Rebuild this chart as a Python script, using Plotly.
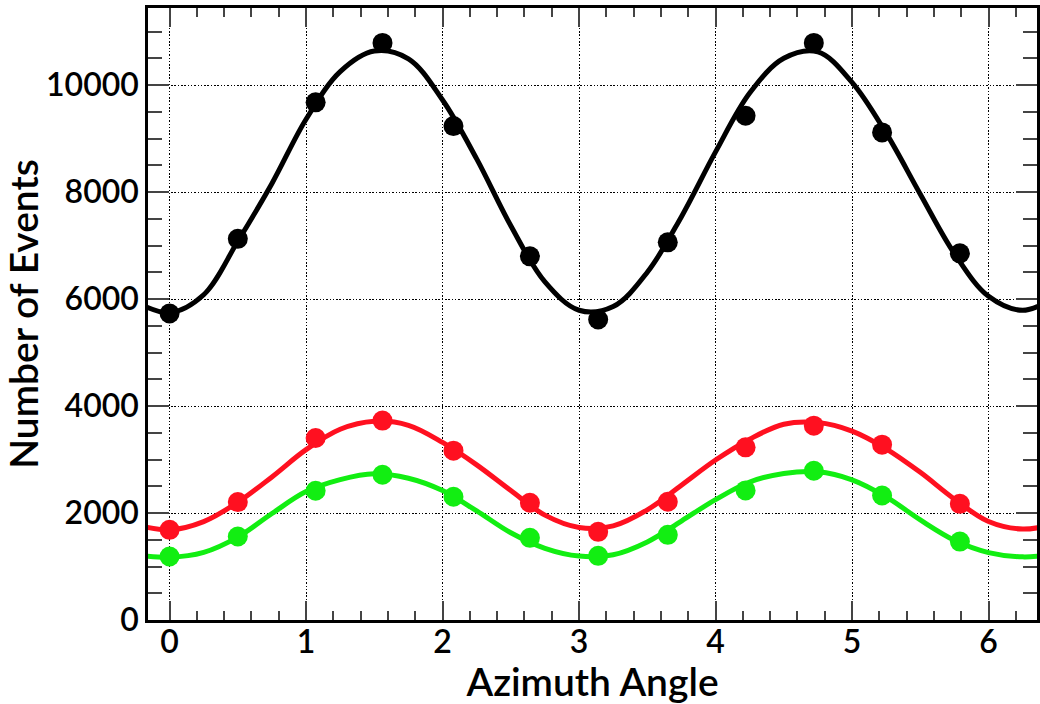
import plotly.graph_objects as go

# Measured data points
x_pts = [0.0, 0.50, 1.07, 1.56, 2.08, 2.64, 3.14, 3.65, 4.22, 4.72, 5.22, 5.79]
black_pts = [5730, 7125, 9676, 10787, 9232, 6798, 5618, 7060, 9425, 10787, 9114, 6854]
red_pts = [1685, 2204, 3402, 3727, 3165, 2191, 1648, 2210, 3227, 3633, 3277, 2172]
green_pts = [1186, 1560, 2416, 2715, 2303, 1536, 1199, 1592, 2422, 2790, 2328, 1466]

# Fitted curves at these x positions
x_fit = [-0.25, 0.0, 0.25, 0.5, 0.75, 1.0, 1.25, 1.5, 1.75, 2.0, 2.25, 2.5, 2.75, 3.0,
         3.25, 3.5, 3.75, 4.0, 4.25, 4.5, 4.75, 5.0, 5.25, 5.5, 5.75, 6.0, 6.25, 6.5]
black_fit = [5950, 5745, 6080, 7080, 8160, 9360, 10250, 10635, 10490, 9720, 8620, 7370,
             6320, 5790, 5860, 6500, 7540, 8750, 9850, 10500, 10620, 10050, 9100, 7960,
             6850, 6050, 5790, 6050]
red_fit = [1780, 1685, 1840, 2200, 2675, 3184, 3565, 3715, 3640, 3320, 2900, 2420,
           1960, 1730, 1760, 2060, 2520, 2990, 3380, 3660, 3690, 3530, 3200, 2760,
           2260, 1840, 1700, 1800]
green_fit = [1215, 1174, 1265, 1550, 1990, 2400, 2625, 2735, 2650, 2420, 2040, 1630,
             1340, 1195, 1220, 1460, 1850, 2250, 2580, 2740, 2770, 2620, 2300, 1870,
             1490, 1260, 1180, 1230]

x_ticks = [0, 1, 2, 3, 4, 5, 6]
y_ticks = [0, 2000, 4000, 6000, 8000, 10000]
y_ticktext = ["0", "2000", "4000", "6000", "8000", "10000"]

BLACK = "#000000"
RED = "#ff1020"
GREEN = "#12ee12"
FONT = "Lato"

fig = go.Figure()

series = [
    (black_fit, black_pts, BLACK),
    (red_fit, red_pts, RED),
    (green_fit, green_pts, GREEN),
]
for yf, yp, col in series:
    fig.add_trace(go.Scatter(x=x_fit, y=yf, mode="lines",
                             line=dict(color=col, width=5, shape="spline", smoothing=1.0),
                             showlegend=False, hoverinfo="skip"))
    fig.add_trace(go.Scatter(x=x_pts, y=yp, mode="markers",
                             marker=dict(color=col, size=20, line=dict(width=0)),
                             showlegend=False))

axis_common = dict(
    showline=True, linecolor="black", linewidth=2.5, mirror="allticks",
    ticks="inside", tickcolor="#444444", tickwidth=1.5,
    showgrid=True, gridcolor="black", gridwidth=1.2, griddash="1.5px,1.8px",
    zeroline=False,
    tickfont=dict(family=FONT, size=32, color="black", weight=600),
)

fig.update_layout(
    width=1040, height=704,
    margin=dict(l=148, r=0, t=8, b=84),
    paper_bgcolor="white", plot_bgcolor="white",
    xaxis=dict(
        range=[-0.158, 6.355], tickvals=x_ticks, ticklen=19,
        ticklabelstandoff=-8,
        minor=dict(dtick=0.2, tick0=0, ticks="inside", ticklen=9, tickwidth=1.5,
                   tickcolor="#444444", showgrid=False),
        title=dict(text="Azimuth Angle",
                   font=dict(family=FONT, size=39, color="black", weight=600), standoff=2),
        **axis_common,
    ),
    yaxis=dict(
        range=[0, 11440], tickvals=y_ticks, ticktext=y_ticktext, ticklen=21,
        minor=dict(dtick=500, tick0=0, ticks="inside", ticklen=14, tickwidth=1.5,
                   tickcolor="#444444", showgrid=False),
        title=dict(text="Number of Events",
                   font=dict(family=FONT, size=39, color="black", weight=600), standoff=8),
        **axis_common,
    ),
)

fig.write_html("out.html")
